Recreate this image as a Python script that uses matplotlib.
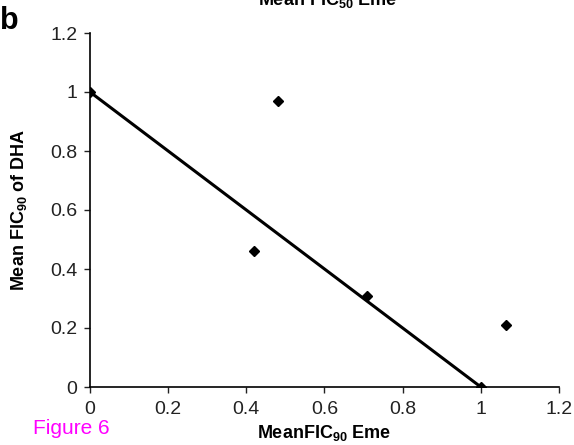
import matplotlib.pyplot as plt

plt.rcParams['font.family'] = ['Liberation Sans', 'DejaVu Sans']
plt.rcParams['mathtext.default'] = 'regular'

# mean FIC values
fic_eme = [0.0, 0.48, 0.42, 0.71, 1.065, 1.0]
fic_dha = [1.0, 0.97, 0.46, 0.31, 0.21, 0.0]

# additivity line
line_x = [0.0, 1.0]
line_y = [1.0, 0.0]

ticks = [0, 0.2, 0.4, 0.6, 0.8, 1, 1.2]
tick_labels = ['0', '0.2', '0.4', '0.6', '0.8', '1', '1.2']

fig = plt.figure(figsize=(5.74, 4.45), dpi=100)
ax = fig.add_axes([90 / 574, 58 / 445, 469 / 574, 354 / 445])

ax.plot(line_x, line_y, color='black', linewidth=2.2, zorder=2)
ax.plot(fic_eme, fic_dha, linestyle='none', marker='D', markersize=5.5,
        color='black', zorder=3)

ax.set_xlim(0, 1.2)
ax.set_ylim(0, 1.2)
ax.set_xticks(ticks)
ax.set_xticklabels(tick_labels)
ax.set_yticks(ticks)
ax.set_yticklabels(tick_labels)
ax.tick_params(direction='out', length=4, width=1, labelsize=14, pad=5,
               colors='#222222')
ax.tick_params(axis='x', pad=6)

for side in ['top', 'right']:
    ax.spines[side].set_visible(False)
for side in ['left', 'bottom']:
    ax.spines[side].set_linewidth(1.2)

ax.set_xlabel('MeanFIC$_{90}$ Eme', fontsize=13, fontweight='bold', labelpad=4)
ax.set_ylabel('Mean FIC$_{90}$ of DHA', fontsize=13, fontweight='bold', labelpad=15)

# cut-off title at the top
fig.text(328 / 574, 1.0, 'Mean FIC$_{50}$ Eme', ha='center', va='center',
         fontsize=13, fontweight='bold')
fig.text(0.0, 1 - 21 / 445, 'b', ha='left', va='center', fontsize=22,
         fontweight='bold')
fig.text(33 / 574, 1 - 428 / 445, 'Figure 6', ha='left', va='center',
         fontsize=15, color='#ff00ff')

fig.savefig('out.png', dpi=100)
